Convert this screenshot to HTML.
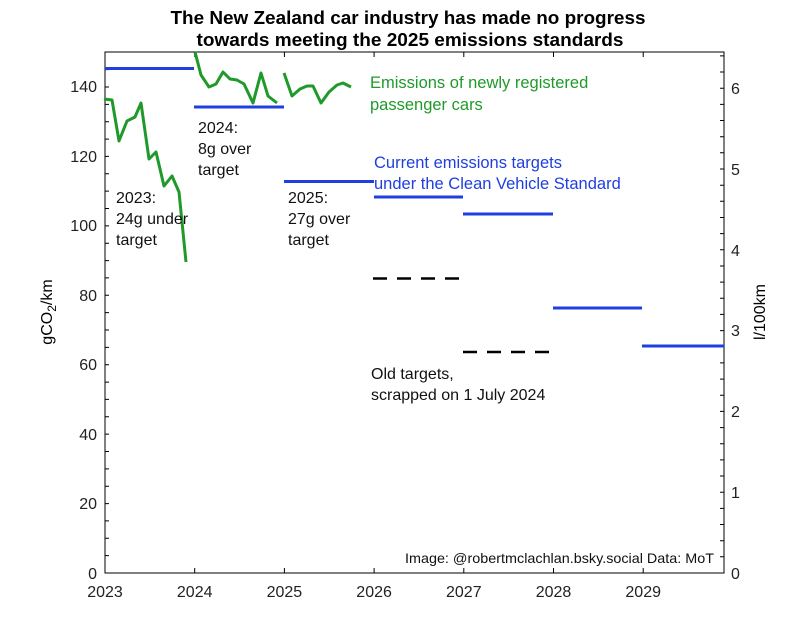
<!DOCTYPE html>
<html><head><style>body{margin:0;background:#fff}svg{display:block}</style></head><body>
<svg width="800" height="643" viewBox="0 0 800 643" xmlns="http://www.w3.org/2000/svg" font-family="Liberation Sans, Arial, sans-serif">
<rect width="800" height="643" fill="#fff"/>
<g font-weight="bold" font-size="18" text-anchor="middle" fill="#000">
<text x="408" y="24" textLength="475" lengthAdjust="spacingAndGlyphs">The New Zealand car industry has made no progress</text>
<text x="410" y="46" textLength="427" lengthAdjust="spacingAndGlyphs">towards meeting the 2025 emissions standards</text>
</g>
<rect x="105" y="52" width="619" height="521" fill="none" stroke="#000" stroke-width="1"/>
<g stroke="#000" stroke-width="1">
<path d="M194.7 573v-5M284.4 573v-5M374.1 573v-5M463.8 573v-5M553.5 573v-5M643.2 573v-5M194.7 52v5M284.4 52v5M374.1 52v5M463.8 52v5M553.5 52v5M643.2 52v5"/>
<path d="M105 555.6h4M105 538.3h4M105 520.9h4M105 503.6h4M105 486.2h4M105 468.9h4M105 451.5h4M105 434.1h4M105 416.8h4M105 399.4h4M105 382.1h4M105 364.7h4M105 347.4h4M105 330h4M105 312.6h4M105 295.3h4M105 277.9h4M105 260.6h4M105 243.2h4M105 225.9h4M105 208.5h4M105 191.1h4M105 173.8h4M105 156.4h4M105 139.1h4M105 121.7h4M105 104.4h4M105 87h4M105 69.6h4"/>
<path d="M724 556.8h-4M724 540.7h-4M724 524.5h-4M724 508.4h-4M724 492.2h-4M724 476h-4M724 459.9h-4M724 443.7h-4M724 427.6h-4M724 411.4h-4M724 395.2h-4M724 379.1h-4M724 362.9h-4M724 346.8h-4M724 330.6h-4M724 314.4h-4M724 298.3h-4M724 282.1h-4M724 266h-4M724 249.8h-4M724 233.6h-4M724 217.5h-4M724 201.3h-4M724 185.2h-4M724 169h-4M724 152.8h-4M724 136.7h-4M724 120.5h-4M724 104.4h-4M724 88.2h-4M724 72h-4M724 55.9h-4"/>
</g>
<g font-size="16" fill="#222" text-anchor="end">
<text x="97" y="579">0</text><text x="97" y="509">20</text><text x="97" y="440">40</text><text x="97" y="370">60</text><text x="97" y="301">80</text><text x="97" y="231">100</text><text x="97" y="162">120</text><text x="97" y="92">140</text>
</g>
<g font-size="16" fill="#222">
<text x="731" y="579">0</text><text x="731" y="498">1</text><text x="731" y="417">2</text><text x="731" y="336">3</text><text x="731" y="256">4</text><text x="731" y="175">5</text><text x="731" y="94">6</text>
</g>
<g font-size="16" fill="#222" text-anchor="middle">
<text x="105" y="597">2023</text><text x="194.7" y="597">2024</text><text x="284.4" y="597">2025</text><text x="374.1" y="597">2026</text><text x="463.8" y="597">2027</text><text x="553.5" y="597">2028</text><text x="643.2" y="597">2029</text>
</g>
<text transform="translate(52,312) rotate(-90)" font-size="16" text-anchor="middle">gCO<tspan font-size="12" dy="4">2</tspan><tspan dy="-4">/km</tspan></text>
<text transform="translate(765,312) rotate(-90)" font-size="16" text-anchor="middle">l/100km</text>
<g stroke="#1f3fe0" stroke-width="3">
<path d="M105 68.5H194M194 107H284M284 181.5H374M374 197H463M463 214H553M553 308H642M642 346H724"/>
</g>
<g stroke="#000" stroke-width="2.5" stroke-dasharray="14,10">
<path d="M373 278.5H463M463 352H553"/>
</g>
<g stroke="#1f9a2a" stroke-width="3" fill="none" stroke-linejoin="round">
<polyline points="104,99 112,100 119,141 127,121 135,117 141,103 149,159 156,152 164,186 172,176 179,192 186,262"/>
<polyline points="195,52 201,75 209,87 216,84 223,72 230,79 237,80 244,84 253,103 261,73 268,96 277,103"/>
<polyline points="284,73 292,96 300,89 307,86 313,86 321,103 329,92 337,85 343,83 351,87"/>
</g>
<g font-size="16" fill="#111">
<text x="116" y="203">2023:</text><text x="116" y="224">24g under</text><text x="116" y="245">target</text>
<text x="198" y="133">2024:</text><text x="198" y="154">8g over</text><text x="198" y="175">target</text>
<text x="288" y="203">2025:</text><text x="288" y="224">27g over</text><text x="288" y="245">target</text>
<text x="371" y="379">Old targets,</text><text x="371" y="400">scrapped on 1 July 2024</text>
</g>
<g font-size="16.5" fill="#1f9a2a"><text x="370" y="88">Emissions of newly registered</text><text x="370" y="110">passenger cars</text></g>
<g font-size="16.5" fill="#1f3fe0"><text x="374" y="168">Current emissions targets</text><text x="374" y="189">under the Clean Vehicle Standard</text></g>
<text x="405" y="563" font-size="14" fill="#111" textLength="309" lengthAdjust="spacingAndGlyphs">Image: @robertmclachlan.bsky.social Data: MoT</text>
</svg>
</body></html>
